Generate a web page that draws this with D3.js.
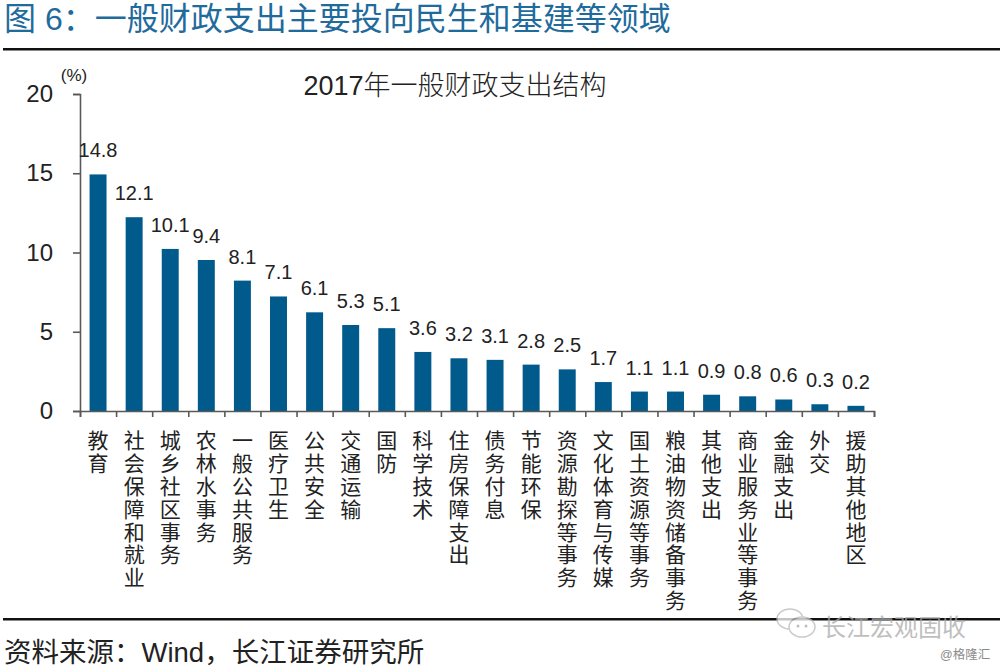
<!DOCTYPE html>
<html>
<head>
<meta charset="utf-8">
<script src="https://d3js.org/d3.v7.min.js"></script>
<style>
body { margin: 0; background: #fff; }
text { font-family: "Liberation Sans", "Noto Sans CJK SC", sans-serif; fill: #222; }
</style>
</head>
<body>
<div id="chart"></div>
<script>
var categories = ["教育", "社会保障和就业", "城乡社区事务", "农林水事务", "一般公共服务", "医疗卫生", "公共安全", "交通运输", "国防", "科学技术", "住房保障支出", "债务付息", "节能环保", "资源勘探等事务", "文化体育与传媒", "国土资源等事务", "粮油物资储备事务", "其他支出", "商业服务业等事务", "金融支出", "外交", "援助其他地区"];
var values = [14.8, 12.1, 10.1, 9.4, 8.1, 7.1, 6.1, 5.3, 5.1, 3.6, 3.2, 3.1, 2.8, 2.5, 1.7, 1.1, 1.1, 0.9, 0.8, 0.6, 0.3, 0.2];
var yTicks = [0, 5, 10, 15, 20];

var pageTitle = "图 6：一般财政支出主要投向民生和基建等领域";
var chartTitle = "2017年一般财政支出结构";
var sourceText = "资料来源：Wind，长江证券研究所";

var svg = d3.select("#chart").append("svg")
	.attr("width", 1000)
	.attr("height", 669)
	.style("display", "block");

var x = d3.scaleBand().domain(d3.range(categories.length)).range([80, 874]).paddingInner(0.53).paddingOuter(0.265);
var xEdge = d3.scaleLinear().domain([0, categories.length]).range([80, 874]);
var y = d3.scaleLinear().domain([0, 20]).range([411, 94]);
var barLift = 2; // bars in the source sit a little above their scale position

// header and rules
svg.append("text").attr("x", 4).attr("y", 30)
	.style("font-size", "32px").style("fill", "#1f6b9c")
	.text(pageTitle);
svg.append("rect").attr("x", 3).attr("y", 48).attr("width", 997).attr("height", 2.5).attr("fill", "#111");
svg.append("rect").attr("x", 3).attr("y", 618).attr("width", 997).attr("height", 2.5).attr("fill", "#111");
svg.append("text").attr("x", 4).attr("y", 662)
	.style("font-size", "27.5px").style("fill", "#222")
	.text(sourceText);

svg.append("text").attr("x", 455).attr("y", 95).attr("text-anchor", "middle")
	.style("font-size", "27px").style("font-weight", 300)
	.text(chartTitle);
svg.append("text").attr("x", 74).attr("y", 81).attr("text-anchor", "middle")
	.style("font-size", "17px")
	.text("(%)");

// bars
svg.selectAll("rect.bar").data(values).enter().append("rect")
	.attr("class", "bar")
	.attr("x", function(d, i) { return x(i); })
	.attr("width", x.bandwidth())
	.attr("y", function(d) { return y(d) - barLift; })
	.attr("height", function(d) { return y(0) - y(d) + barLift; })
	.attr("fill", "#005a8c");

// axes
var yAxis = svg.append("g").attr("transform", "translate(80,0)")
	.call(d3.axisLeft(y).tickValues(yTicks).tickSize(7).tickPadding(20));
var xAxis = svg.append("g").attr("transform", "translate(0,411)")
	.call(d3.axisBottom(xEdge).tickValues(d3.range(categories.length + 1)).tickSize(6).tickFormat(""));
svg.selectAll(".domain, .tick line").attr("stroke", "#595959").attr("stroke-width", 1.6);
yAxis.selectAll("text").style("font-size", "24px").style("fill", "#222");

// value labels
svg.selectAll("text.value").data(values).enter().append("text")
	.attr("class", "value")
	.attr("x", function(d, i) { return x(i) + x.bandwidth() / 2; })
	.attr("y", function(d) { return y(d) - 19; })
	.attr("text-anchor", "middle")
	.style("font-size", "20px")
	.text(function(d) { return d.toFixed(1); });

// category labels, read top to bottom
svg.selectAll("text.cat").data(categories).enter().append("text")
	.attr("class", "cat")
	.attr("transform", function(d, i) { return "translate(" + (x(i) + x.bandwidth() / 2 - 1.5) + ",430)"; })
	.style("writing-mode", "vertical-rl")
	.style("text-orientation", "upright")
	.style("font-size", "21px")
	.style("letter-spacing", "1.8px")
	.text(function(d) { return d; });

// watermark
var mark = svg.append("g").attr("opacity", 0.75);
mark.append("ellipse").attr("cx", 790).attr("cy", 619).attr("rx", 13).attr("ry", 10).attr("fill", "#fff").attr("stroke", "#bbb").attr("stroke-width", 1.5);
mark.append("ellipse").attr("cx", 802).attr("cy", 627).attr("rx", 13).attr("ry", 10).attr("fill", "#fff").attr("stroke", "#bbb").attr("stroke-width", 1.5);
mark.append("circle").attr("cx", 798).attr("cy", 626).attr("r", 1.5).attr("fill", "#aaa");
mark.append("circle").attr("cx", 806).attr("cy", 626).attr("r", 1.5).attr("fill", "#aaa");
mark.append("text").attr("x", 822).attr("y", 636)
	.style("font-size", "24px").style("fill", "#aaa").text("长江宏观固收");
svg.append("text").attr("x", 940).attr("y", 659)
	.style("font-size", "12.5px").style("fill", "#8a8a8a").text("@格隆汇");
</script>
</body>
</html>
